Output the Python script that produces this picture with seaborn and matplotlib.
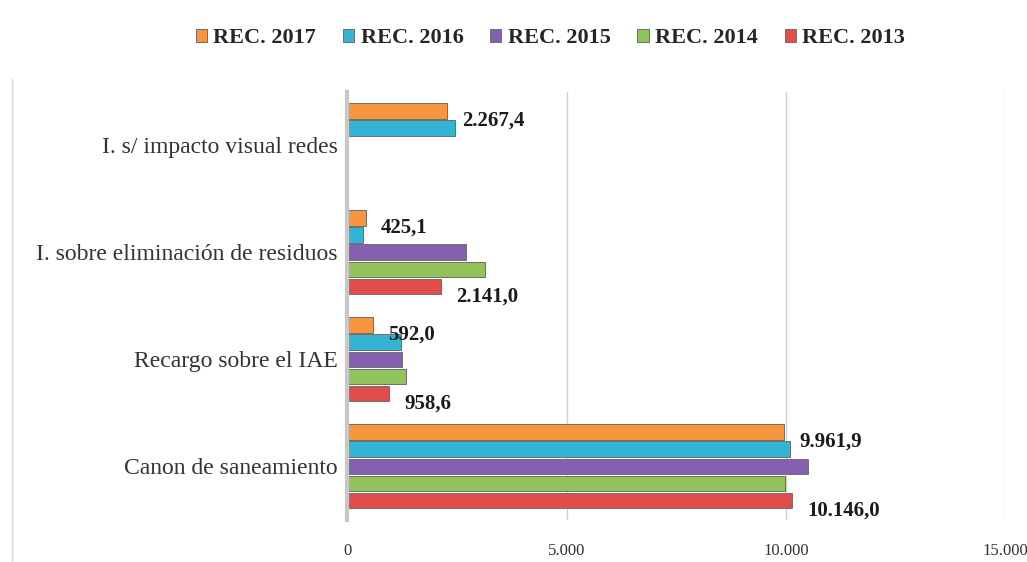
import pandas as pd
import numpy as np
import matplotlib.pyplot as plt
import seaborn as sns

# Data
categories = ["I. s/ impacto visual redes",
              "I. sobre eliminación de residuos",
              "Recargo sobre el IAE",
              "Canon de saneamiento"]
series = ["REC. 2017", "REC. 2016", "REC. 2015", "REC. 2014", "REC. 2013"]
rec_2017 = [2267.4, 425.1, 592.0, 9961.9]
rec_2016 = [2450.0, 364.0, 1232.0, 10100.0]
rec_2015 = [np.nan, 2710.0, 1255.0, 10510.0]
rec_2014 = [np.nan, 3143.0, 1350.0, 9987.0]
rec_2013 = [np.nan, 2141.0, 958.6, 10146.0]
colors = ["#F7963C", "#33B4D4", "#8560B0", "#92C25A", "#E04D4A"]

values = {"REC. 2017": rec_2017, "REC. 2016": rec_2016, "REC. 2015": rec_2015,
          "REC. 2014": rec_2014, "REC. 2013": rec_2013}
rows = []
for s in series:
    for c, v in zip(categories, values[s]):
        rows.append({"categoria": c, "serie": s, "valor": v})
df = pd.DataFrame(rows)

sns.set_style("white")
plt.rcParams["font.family"] = ["Liberation Serif", "DejaVu Serif"]

fig = plt.figure(figsize=(10.27, 5.62), dpi=100)
ax = fig.add_axes([0.338, 0.075, 0.641, 0.762])

sns.barplot(data=df, y="categoria", x="valor", hue="serie", order=categories,
            hue_order=series, palette=colors, saturation=1, orient="h",
            width=0.8, gap=0.1, edgecolor="#6E6E6E", linewidth=0.7, ax=ax)

def fmt(v):
    s = f"{v:,.1f}"
    return s.replace(",", "X").replace(".", ",").replace("X", ".")

# value labels for 2017 and 2013
for cont, s in zip(ax.containers, series):
    if s not in ("REC. 2017", "REC. 2013"):
        continue
    for bar in cont:
        v = bar.get_width()
        if np.isnan(v):
            continue
        y = bar.get_y() + bar.get_height() / 2
        ax.annotate(fmt(v), xy=(v, y), xytext=(11, -7), textcoords="offset points",
                    ha="left", va="center", fontsize=15, fontweight="bold",
                    color="#1A1A1A")

ax.set_xlim(0, 15000)
ax.set_xticks([0, 5000, 10000, 15000])
ax.set_xticklabels(["0", "5.000", "10.000", "15.000"], fontsize=12, color="#333333")
ax.set_xlabel("")
ax.set_ylabel("")
ax.tick_params(axis="x", length=0, pad=17)
ax.tick_params(axis="y", length=0, pad=7, labelsize=17, labelcolor="#333333")
ax.grid(axis="x", color="#D0D0D0", linewidth=1)
ax.set_axisbelow(True)
for side in ["top", "right", "bottom"]:
    ax.spines[side].set_visible(False)
ax.spines["left"].set_color("#C8C8C8")
ax.spines["left"].set_linewidth(3)

handles, labels = ax.get_legend_handles_labels()
ax.legend(handles, labels, loc="upper center", bbox_to_anchor=(0.536, 0.985),
          bbox_transform=fig.transFigure, ncol=5, frameon=False,
          prop={"weight": "bold", "size": 16}, handlelength=0.5, handleheight=0.5,
          handletextpad=0.3, columnspacing=1.2)

# chart border on the left
fig.add_artist(plt.Line2D([0.012, 0.012], [0.0, 0.86], color="#D8D8D8", linewidth=1))

plt.savefig("out.png", dpi=100)
